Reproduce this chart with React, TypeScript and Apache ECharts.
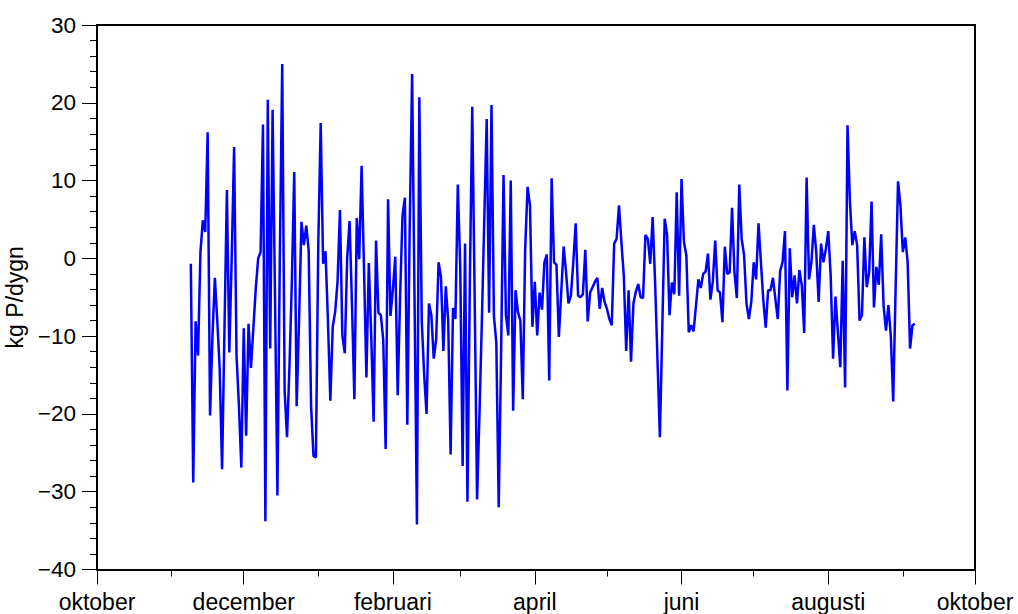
import React, { useEffect, useRef } from "react";
import * as echarts from "echarts";

// Days are counted from 1 October (day 0) to the next 1 October (day 365).
const labelledMonths = [0, 61, 123, 182, 243, 304, 365];
const monthNames = ["oktober", "december", "februari", "april", "juni", "augusti", "oktober"];
const minorMonths = [31, 92, 151, 212, 273, 335];

const yTicks = { min: -40, max: 30, step: 10 };

// Daily phosphorus load, kg P per day, from day 39 (9 November) onwards
const firstDay = 39;
const dailyLoad = [
  -0.7, -28.8, -8.1, -12.5, 0.8, 4.9, 3.4, 16.2, -20.2, -10,
  -2.5, -8, -14.2, -27.1, -9, 8.8, -12.1, 0, 14.3, -12.5,
  -18.9, -26.9, -9.0, -22.8, -8.4, -14.1, -9, -3.9, 0.0, 0.8,
  17.2, -33.8, 20.4, -11.6, 19.1, -5, -30.5, 0, 25.0, -17,
  -23.0, -14, -3, 11.1, -19.0, -8, 4.7, 1.7, 4.2, 1.0,
  -19, -25.4, -25.6, 2, 17.4, -0.7, 0.9, -8, -18.3, -8.8,
  -6.9, -3, 6.2, -9.9, -12.2, 0, 4.8, -6, -18.1, 5.2,
  -0.1, 11.9, -1.3, -15.3, -0.6, -10, -21.0, 2.3, -7.0, -7.3,
  -10.5, -24.5, 7.6, -7.4, -4, 0.2, -17.6, -5, 5.5, 7.8,
  -21.4, 4, 23.7, -5, -34.2, 20.7, -8, -14.9, -20.0, -5.8,
  -7.3, -12.9, -10.4, -0.5, -2.4, -11.9, -3.6, -8, -25.2, -6.4,
  -7.8, 9.5, -1, -26.7, 1.9, -31.3, -3, 19.5, -5, -31.0,
  -20, -8, 5, 17.9, -7.0, 19.7, -7.4, -10.8, -32.0, -12,
  10.7, -7.3, -9.9, 10.0, -19.6, -4.1, -6.9, -8.0, -18.1, 1.2,
  9.2, 6.8, -8.8, -3.0, -9.9, -4.4, -6.6, -0.5, 0.5, -15.7,
  10.3, -0.5, -0.8, -10.1, -4.3, 1.5, -1.8, -5.8, -4.8, -0.5,
  4.5, -4.8, -5.0, -4.6, 1.1, -8.1, -4.4, -3.7, -3.0, -2.5,
  -6.5, -3.8, -5.6, -6.5, -7.8, -8.6, 1.9, 2.5, 6.8, 2.1,
  -2.2, -11.9, -4.1, -13.3, -5.8, -4.3, -3.3, -5.0, -5.1, 3.0,
  2.5, -0.7, 5.3, -3, -13, -23.0, -9, 5.1, 3.0, -7.3,
  -3.1, -4.6, 8.5, -4.8, 10.2, 2.1, 0.4, -9.5, -8.6, -9.4,
  -6.1, -2.7, -3.8, -2.0, -1.7, 0.6, -5.3, -3.0, 2.3, -4.1,
  -4.4, -8.2, 1.5, -2.0, -1.8, 6.5, -1.8, -5.1, 9.5, 2.5,
  0.4, -5.8, -7.8, -5.6, -0.5, -2.7, 4.5, -0.5, -5.4, -8.9,
  -4.1, -4.1, -2.5, -5.2, -7.8, -1.6, -0.5, 3.5, -17.0, 1.3,
  -5.0, -2.2, -5.8, -1.5, -3.5, -9.6, 10.4, -2.7, -0.5, 4.3,
  0.8, -5.6, 1.9, -0.5, 1.2, 3.5, -2.2, -12.9, -4.9, -9.5,
  -14.0, -0.3, -16.6, 17.1, 7.3, 1.7, 3.5, 1.7, -8.0, -7.3,
  2.7, -3.7, -1.8, 7.3, -6.3, -1.1, -3.4, 3.1, -6.1, -9.3,
  -6.0, -10.0, -18.4, -3.9, 9.9, 6.8, 0.8, 2.7, -0.5, -11.6,
  -8.6, -8.4,
];

const FONT = "Liberation Sans, Arial, sans-serif";
const black = "#000000";

export default function App() {
  const ref = useRef<HTMLDivElement>(null);

  useEffect(() => {
    if (!ref.current) return;
    const chart = echarts.init(ref.current, undefined, { renderer: "svg" });
    const points = dailyLoad.map((v, i) => [firstDay + i, v]);

    const hiddenX = {
      type: "value",
      min: 0,
      max: 365,
      axisLabel: { show: false },
      splitLine: { show: false },
    };

    chart.setOption({
      animation: false,
      backgroundColor: "#ffffff",
      grid: {
        left: 97,
        right: 43,
        top: 25,
        bottom: 44.5,
        containLabel: false,
        outerBoundsMode: "none",
      },
      xAxis: [
        {
          type: "value",
          min: 0,
          max: 365,
          position: "bottom",
          axisLine: { show: true, onZero: false, lineStyle: { color: black, width: 2 } },
          axisTick: {
            show: true,
            customValues: labelledMonths,
            length: 15,
            lineStyle: { color: black, width: 1 },
          },
          axisLabel: {
            customValues: labelledMonths,
            formatter: (v: number) => monthNames[labelledMonths.indexOf(Math.round(v))] ?? "",
            fontSize: 23,
            fontFamily: FONT,
            color: black,
            margin: 21,
          },
          splitLine: { show: false },
        },
        {
          ...hiddenX,
          position: "bottom",
          axisLine: { show: false, onZero: false },
          axisTick: {
            show: true,
            customValues: minorMonths,
            length: 7,
            lineStyle: { color: black, width: 1 },
          },
        },
        {
          ...hiddenX,
          position: "top",
          axisLine: { show: true, onZero: false, lineStyle: { color: black, width: 2 } },
          axisTick: { show: false },
        },
      ],
      yAxis: [
        {
          type: "value",
          min: yTicks.min,
          max: yTicks.max,
          interval: yTicks.step,
          position: "left",
          axisLine: { show: true, onZero: false, lineStyle: { color: black, width: 2 } },
          axisTick: { show: true, length: 15, lineStyle: { color: black, width: 1 } },
          minorTick: { show: true, splitNumber: 5, length: 7, lineStyle: { color: black, width: 1 } },
          axisLabel: {
            formatter: (v: number) => (v < 0 ? "\u2212" + Math.abs(v) : String(v)),
            fontSize: 22.5,
            fontFamily: FONT,
            color: black,
            margin: 21,
          },
          splitLine: { show: false },
          minorSplitLine: { show: false },
          name: "kg P/dygn",
          nameLocation: "middle",
          nameGap: 59,
          nameTextStyle: { fontSize: 23, fontFamily: FONT, color: black },
        },
        {
          type: "value",
          min: yTicks.min,
          max: yTicks.max,
          interval: yTicks.step,
          position: "right",
          axisLine: { show: true, onZero: false, lineStyle: { color: black, width: 2 } },
          axisTick: { show: false },
          axisLabel: { show: false },
          splitLine: { show: false },
        },
      ],
      series: [
        {
          type: "line",
          xAxisIndex: 0,
          yAxisIndex: 0,
          data: points,
          showSymbol: false,
          symbol: "none",
          lineStyle: { color: "#0000ff", width: 2.5 },
          itemStyle: { color: "#0000ff" },
        },
      ],
    });

    return () => chart.dispose();
  }, []);

  return (
    <div
      ref={ref}
      style={{ position: "fixed", left: 0, top: 0, width: 1018, height: 614, background: "#fff" }}
    />
  );
}
